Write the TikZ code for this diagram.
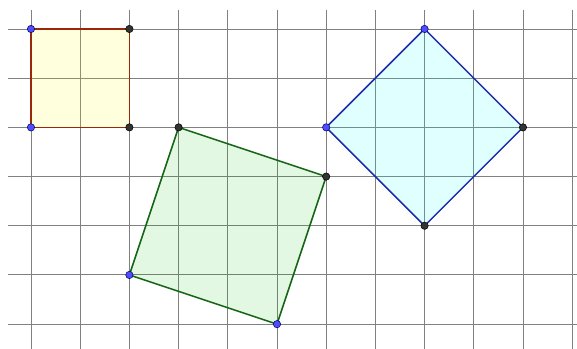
\documentclass[tikz,border=0pt]{standalone}
\definecolor{yfill}{RGB}{255,255,0}
\definecolor{gfill}{RGB}{0,190,0}
\definecolor{cfill}{RGB}{0,255,255}
\definecolor{yedge}{RGB}{153,40,10}
\definecolor{gedge}{RGB}{20,100,20}
\definecolor{cedge}{RGB}{30,45,170}
\definecolor{ptblue}{RGB}{77,77,255}
\begin{document}
\begin{tikzpicture}[x=1cm,y=-1cm,
  gridline/.style={draw=black!50,line width=0.55pt},
  bluept/.style={circle,fill=ptblue,draw=blue!40!black,line width=0.3pt,inner sep=0pt,minimum size=0.15cm},
  darkpt/.style={circle,fill=black!80,draw=black,line width=0.3pt,inner sep=0pt,minimum size=0.15cm},
  edge/.style={line width=0.9pt,line join=round}]
\useasboundingbox (-0.630,-0.589) rectangle (11.098,6.504);
% grid
\foreach \i in {0,...,11} \draw[gridline] (\i,-0.386) -- (\i,6.504);
\foreach \j in {0,...,6} \draw[gridline] (-0.47,\j) -- (11.098,\j);
% points
\coordinate (A) at (0,0); \coordinate (B) at (2,0); \coordinate (C) at (2,2); \coordinate (D) at (0,2);
\coordinate (E) at (3,2); \coordinate (F) at (6,3); \coordinate (G) at (5,6); \coordinate (H) at (2,5);
\coordinate (K) at (8,0); \coordinate (L) at (10,2); \coordinate (M) at (8,4); \coordinate (N) at (6,2);
% polygons
\fill[yfill,fill opacity=0.13] (A) -- (B) -- (C) -- (D) -- cycle;
\draw[edge,draw=yedge] (A) -- (B) -- (C) -- (D) -- cycle;
\fill[gfill,fill opacity=0.11] (E) -- (F) -- (G) -- (H) -- cycle;
\draw[edge,draw=gedge] (E) -- (F) -- (G) -- (H) -- cycle;
\fill[cfill,fill opacity=0.12] (K) -- (L) -- (M) -- (N) -- cycle;
\draw[edge,draw=cedge] (K) -- (L) -- (M) -- (N) -- cycle;
% dots
\node[bluept] (pA) at (A) {}; \node[darkpt] (pB) at (B) {}; \node[darkpt] (pC) at (C) {}; \node[bluept] (pD) at (D) {};
\node[darkpt] (pE) at (E) {}; \node[darkpt] (pF) at (F) {}; \node[bluept] (pG) at (G) {}; \node[bluept] (pH) at (H) {};
\node[bluept] (pK) at (K) {}; \node[darkpt] (pL) at (L) {}; \node[darkpt] (pM) at (M) {}; \node[bluept] (pN) at (N) {};
\end{tikzpicture}
\end{document}
